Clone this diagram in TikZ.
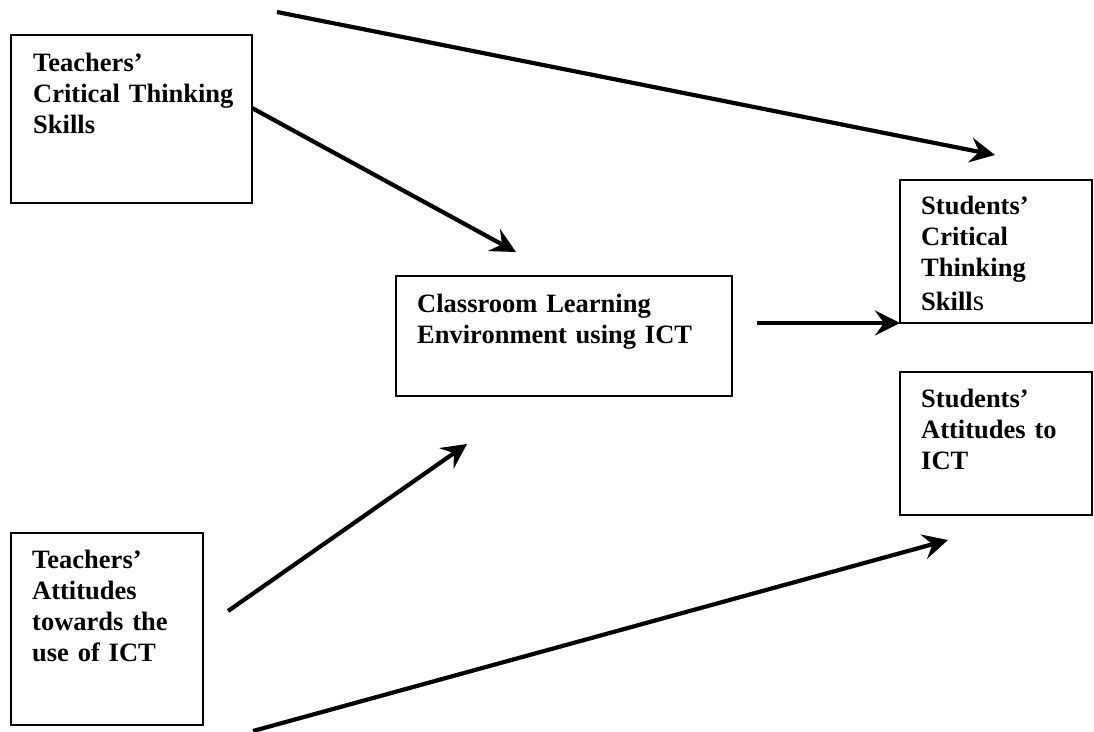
\documentclass[tikz,border=0pt]{standalone}
\usepackage{fontspec}
\setmainfont{Liberation Serif}
\usetikzlibrary{arrows.meta,calc}

\begin{document}
\begin{tikzpicture}[x=1pt,y=-1pt,
  box/.style 2 args={draw, line width=2pt, rectangle, inner sep=0pt, outer sep=0pt,
    minimum width=#1, minimum height=#2, anchor=north west},
  lbl/.style={anchor=base west, align=left, text width=300pt, inner sep=0pt,
    font=\bfseries\fontsize{26.5}{31}\selectfont},
  arr/.style={line width=4.2pt, -{Stealth[length=25pt,width=25pt,inset=9pt]}}]

% canvas
\path[use as bounding box, fill=white] (0,0) rectangle (1094,731);

% boxes
\node[box={241pt}{168pt}] (tct)  at (11,35)  {};
\node[box={192pt}{143pt}] (sct)  at (900,180) {};
\node[box={336pt}{120pt}] (cle)  at (396,276) {};
\node[box={192pt}{143pt}] (satt) at (900,372) {};
\node[box={192pt}{192pt}] (tatt) at (11,533) {};

% box texts
\node[lbl] (tctT)  at ($(tct.north west)+(22,36)$)  {Teachers'\\Critical Thinking\\Skills};
\node[lbl] (sctT)  at ($(sct.north west)+(21,34)$)  {Students'\\Critical\\Thinking\\[3pt]Skill{\mdseries\fontsize{29}{31}\selectfont s}};
\node[lbl] (cleT)  at ($(cle.north west)+(21,36)$)  {Classroom Learning\\Environment using ICT};
\node[lbl] (sattT) at ($(satt.north west)+(21,35)$) {Students'\\Attitudes to\\ICT};
\node[lbl] (tattT) at ($(tatt.north west)+(21,35)$) {Teachers'\\Attitudes\\towards the\\use of ICT};

% free ends of the connectors
\coordinate (a1s) at (277,12);
\coordinate (a1e) at (995,155);
\coordinate (a2s) at ($(tct.north east)+(0,73)$);
\coordinate (a2e) at (516,252);
\coordinate (a3s) at (757,323);
\coordinate (a4s) at (228,611);
\coordinate (a4e) at (467,444);
\coordinate (a5s) at (253,731);
\coordinate (a5e) at (948,540);

% connectors
\draw[arr] (a1s) -- (a1e);
\draw[arr] (a2s) -- (a2e);
\draw[arr] (a3s) -- (sct.south west);
\draw[arr] (a4s) -- (a4e);
\draw[arr] (a5s) -- (a5e);
\end{tikzpicture}
\end{document}
